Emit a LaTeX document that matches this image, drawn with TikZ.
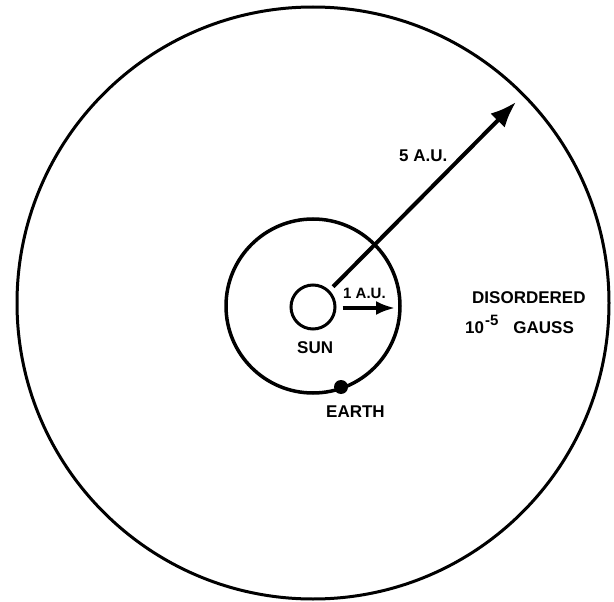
\documentclass[tikz,border=0pt]{standalone}
\usepackage{fontspec}
\setmainfont{Liberation Sans}
\usetikzlibrary{arrows.meta}
\tikzset{
  lbl/.style={inner sep=0pt, anchor=base west, font=\bfseries\fontsize{17}{18}\selectfont},
  smalllbl/.style={lbl, font=\bfseries\fontsize{15}{16}\selectfont},
  bigarrow/.style={line width=4pt, -{Latex[length=26pt,width=20pt]}},
  smallarrow/.style={line width=3.5pt, -{Latex[length=19pt,width=14pt]}},
  orbit/.style={line width=3.5pt},
}
\begin{document}
\begin{tikzpicture}[x=1pt,y=-1pt]
\useasboundingbox (0,0) rectangle (614,602);
% outer boundary
\draw[line width=3pt] (313,303) circle (296pt);
% Earth orbit
\draw[orbit] (313,306) circle (87pt);
% Sun
\node (sun) [circle, draw, line width=3pt, minimum size=44pt, inner sep=0pt] at (313,307) {};
\node (sunlbl) [lbl] at (297,353) {SUN};
% Earth
\node (earth) [circle, fill=black, minimum size=14pt, inner sep=0pt] at (341,387) {};
\node (earthlbl) [lbl] at (326,417) {EARTH};
% 5 AU arrow
\coordinate (tip5) at (516,102);
\draw[bigarrow, shorten <=5pt] (sun) -- (tip5);
\node (five) [lbl] at (399,161) {5 A.U.};
% 1 AU arrow
\coordinate (tip1) at (395,308);
\draw[smallarrow] ([xshift=6pt,yshift=-1pt]sun.east) -- (tip1);
\node (one) [smalllbl] at (343,298) {1 A.U.};
% region label
\node (dis) [lbl] at (472,303) {DISORDERED};
\node (gauss) [lbl] at (465,333) {10\kern1pt\raisebox{8pt}{\fontsize{15}{15}\selectfont -5}\hspace{15pt}GAUSS};
\end{tikzpicture}
\end{document}
